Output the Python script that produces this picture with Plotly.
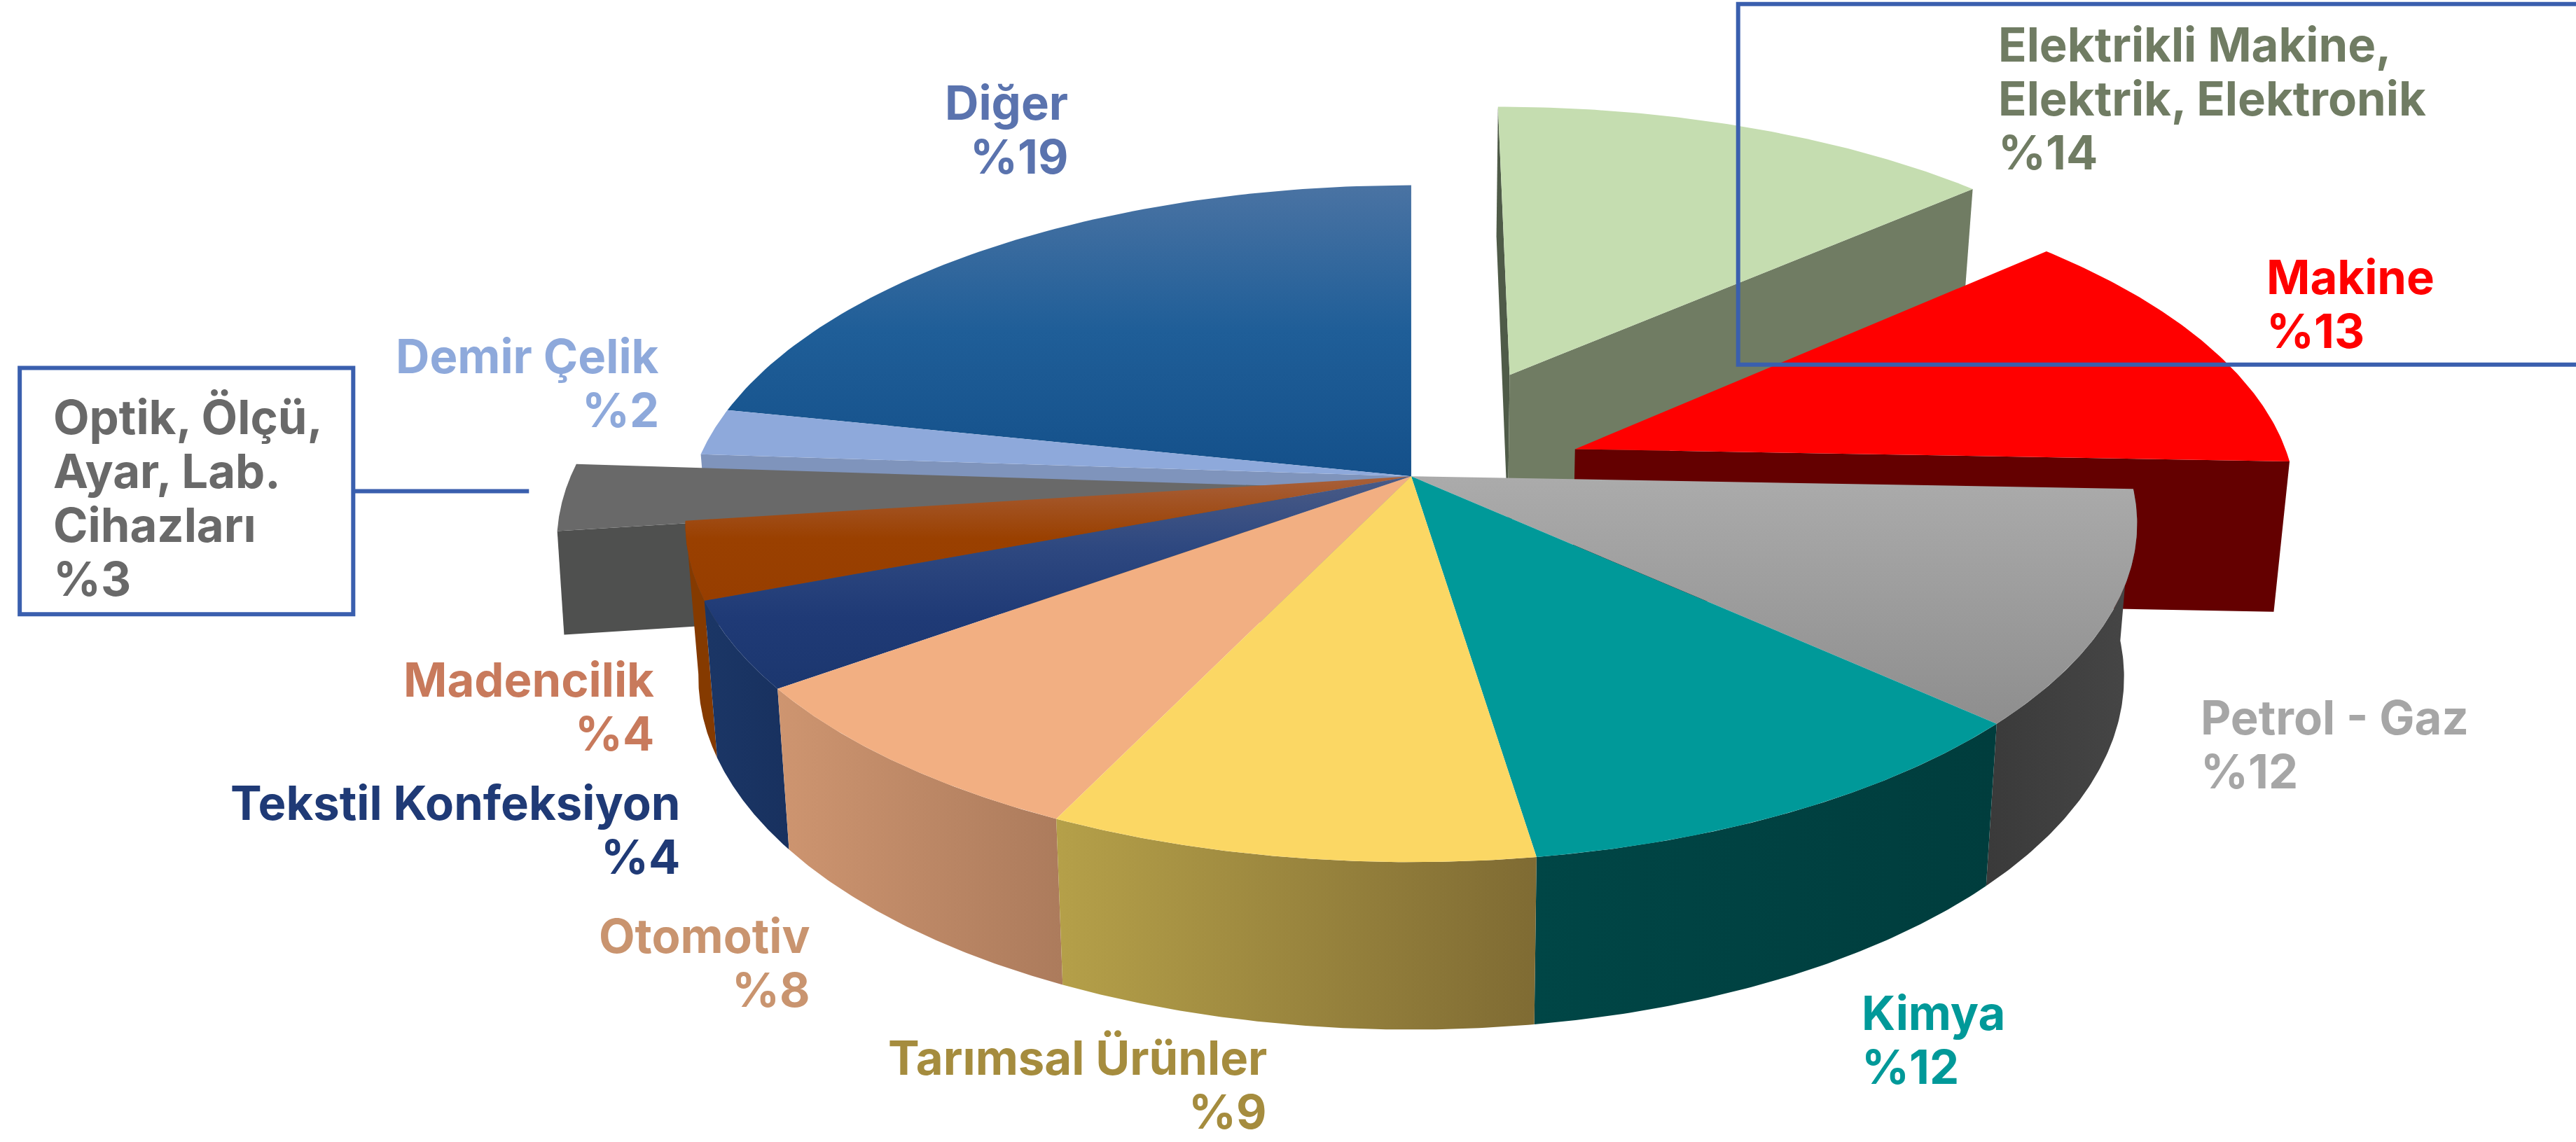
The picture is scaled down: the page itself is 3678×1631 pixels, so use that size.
import numpy as np
import plotly.graph_objects as go

# ---- data -----------------------------------------------------------------
categories = ["Elektrikli Makine,<br>Elektrik, Elektronik", "Makine", "Petrol - Gaz", "Kimya",
              "Tarımsal Ürünler", "Otomotiv", "Tekstil Konfeksiyon", "Madencilik",
              "Optik, Ölçü,<br>Ayar, Lab.<br>Cihazları", "Demir Çelik", "Diğer"]
label_values = [14, 13, 12, 12, 9, 8, 4, 4, 3, 2, 19]
# share of the circle each slice really occupies in the drawing
drawn_shares = [13.4, 12.2, 11.2, 10.8, 9.5, 7.9, 4.2, 3.7, 3.17, 2.22, 21.71]
explode = [0.35, 0.245, 0, 0, 0, 0, 0, 0, 0.17, 0, 0]
top_colors = [["#C5DDB0"], ["#FF0000"], ["#ABABAB", "#8E8E8E"], ["#009999"], ["#FBD764"], ["#F2AF82"],
              ["#4A5B86", "#2E4880", "#1F3A76", "#1C376F"], ["#A8603B", "#9A4000", "#973E00"], ["#696969"], ["#8EA9DB"],
              ["#4A73A3", "#1F5E98", "#14508A"]]
wall_colors = [None, None, ["#3A3A3A", "#464646"], ["#004646", "#003D3D"], ["#B5A049", "#7F6B33"],
               ["#CE9570", "#AC7B5C"], ["#1B3666", "#18315F"], ["#853A00"], None, None, None]
radial_colors = [{"start": "#4F5B48", "end": "#707C63"}, {"end": "#640000"}, {}, {}, {}, {}, {}, {},
                 {"start": "#4F504F"}, {"start": "#7F94BC"}, {}]
label_colors = ["#707C63", "#FF0000", "#A6A6A6", "#009999", "#A58C3E", "#C9946F",
                "#1F3A76", "#C87A5C", "#696969", "#8EA9DB", "#5A73AE"]
# label anchor (x, y of block centre, alignment) in 1568-wide picture units
label_pos = [(1215.5, 60, "left"), (1378.5, 185, "left"), (1338.5, 453, "left"), (1132.5, 633, "left"),
             (772, 660.5, "right"), (494, 586, "right"), (415, 505, "right"), (399, 430, "right"),
             (31.5, 303, "left"), (402, 233, "right"), (651, 79, "right")]
paint_order = [10, 9, 0, 1, 8, 7, 6, 5, 2, 3, 4]
LINE_PITCH = 32.8

# ---- projection ------------------------------------------------------------
CX, CY, A, B, K = 859.0, 290.0, 437.5, 202.0, 0.14
BOTTOM_SCALE = 0.982
edges = np.cumsum([0] + drawn_shares) / sum(drawn_shares) * 2 * np.pi


def project(x, y):
    d = 1 - K * y
    return CX + A * x / d, CY + B * y / d


def bottom(x, y, depth_factor, scale=BOTTOM_SCALE):
    sx, sy = project(x, y)
    return CX + scale * (sx - CX), sy + (92 + 10 * y) * depth_factor


def face(points_x, points_y, colors, kind, name):
    kw = {}
    if len(colors) > 1:
        seq = colors[::-1] if kind == "vertical" else colors   # y axis runs downward
        n = len(seq) - 1
        kw["fillgradient"] = dict(type=kind, colorscale=[[i / n, c] for i, c in enumerate(seq)])
    else:
        kw["fillcolor"] = colors[0]
    fig.add_trace(go.Scatter(x=list(points_x), y=list(points_y), mode="lines", fill="toself",
                             line=dict(width=0), hoverinfo="skip", showlegend=False, name=name, **kw))


fig = go.Figure()

depth_factor = {8: 62 / 92}
bottom_scale = {8: 0.992}
for i in paint_order:
    a0, a1 = edges[i], edges[i + 1]
    mid = (a0 + a1) / 2
    ox, oy = explode[i] * np.sin(mid), -explode[i] * np.cos(mid)
    if i == 8:
        oy = 0.03
    th = np.linspace(a0, a1, 80)
    rx, ry = ox + np.sin(th), oy - np.cos(th)
    f = depth_factor.get(i, 1.0)
    s = bottom_scale.get(i, BOTTOM_SCALE)
    for key, ang in (("start", a0), ("end", a1)):
        if key in radial_colors[i]:
            tx, ty = ox + np.sin(ang), oy - np.cos(ang)
            p = [project(ox, oy), project(tx, ty), bottom(tx, ty, f, s), bottom(ox, oy, f, s)]
            face([q[0] for q in p], [q[1] for q in p], [radial_colors[i][key]], "horizontal",
                 "radial " + str(i))
    if wall_colors[i]:
        tx, ty = project(rx, ry)
        bx, by = bottom(rx, ry, f, s)
        face(np.r_[tx, bx[::-1]], np.r_[ty, by[::-1]], wall_colors[i], "horizontal", "wall " + str(i))
    tx, ty = project(rx, ry)
    ax, ay = project(ox, oy)
    face(np.r_[ax, tx], np.r_[ay, ty], top_colors[i], "vertical", "top " + str(i))

BOX = "#3A5FAE"
fig.add_shape(type="rect", x0=12, x1=215, y0=224, y1=374, line=dict(color=BOX, width=6), layer="above")
fig.add_shape(type="line", x0=215, x1=322, y0=299, y1=299, line=dict(color=BOX, width=6), layer="above")
fig.add_shape(type="rect", x0=1058, x1=1620, y0=2.5, y1=222, line=dict(color=BOX, width=6), layer="above")

for name, val, col, (lx, ly, al) in zip(categories, label_values, label_colors, label_pos):
    lines = name.split("<br>") + [f"%{val}"]
    for j, line in enumerate(lines):
        line_y = ly + (j - (len(lines) - 1) / 2) * LINE_PITCH
        fig.add_annotation(x=lx, y=line_y, text=line,
                           showarrow=False, xanchor=al, yanchor="middle", xref="x", yref="y",
                           font=dict(family="Inter", size=67, color=col, weight=700))

fig.update_layout(width=3678, height=1631, margin=dict(l=0, r=0, t=0, b=0, pad=0),
                  paper_bgcolor="white", plot_bgcolor="white",
                  xaxis=dict(range=[0, 1568], visible=False, fixedrange=True),
                  yaxis=dict(range=[695.3, 0], visible=False, fixedrange=True),
                  showlegend=False)
fig.write_html("out.html", post_script="document.body.style.margin='0';document.body.style.overflow='hidden';",
               config={"displayModeBar": False})
